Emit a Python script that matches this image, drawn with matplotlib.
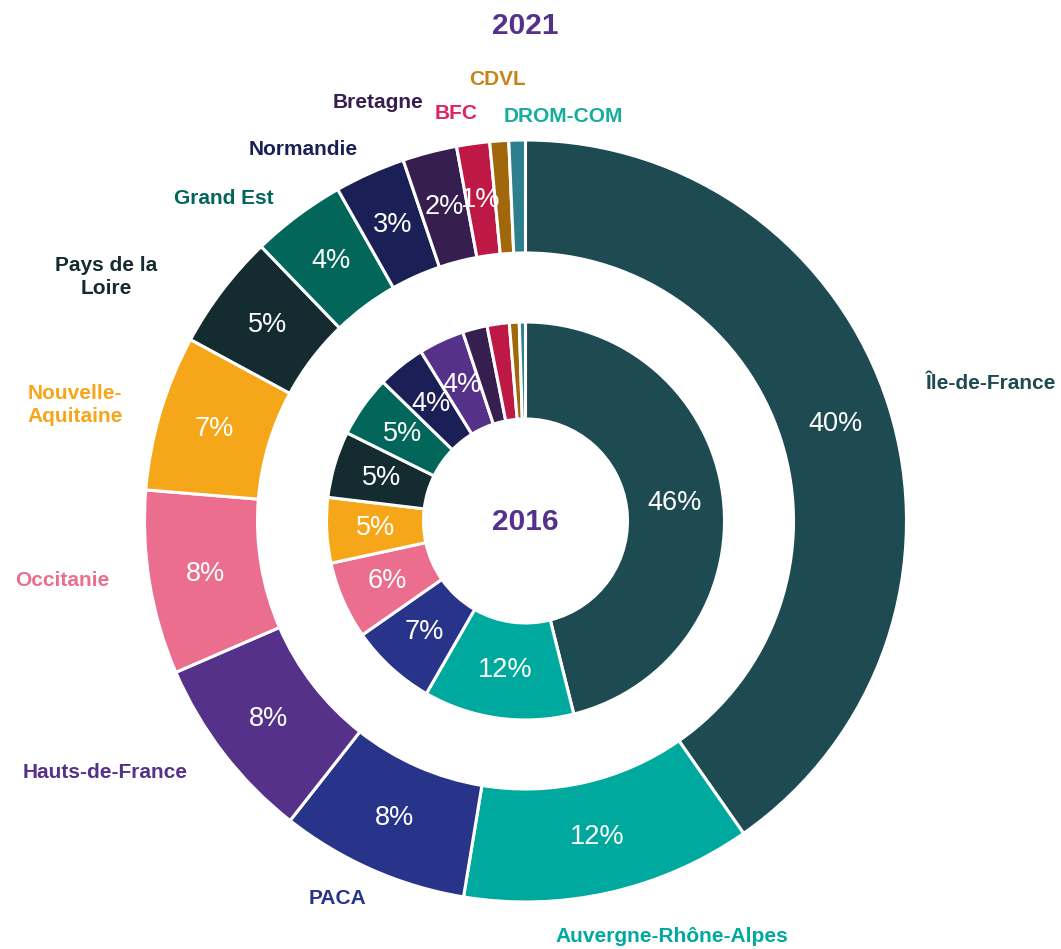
import matplotlib.pyplot as plt

plt.rcParams['font.family'] = ['Liberation Sans', 'DejaVu Sans']

# Regions, clockwise from the top
regions = ["Île-de-France", "Auvergne-Rhône-Alpes", "PACA", "Hauts-de-France",
           "Occitanie", "Nouvelle-\nAquitaine", "Pays de la\nLoire", "Grand Est",
           "Normandie", "Bretagne", "BFC", "CDVL", "DROM-COM"]
share_2021 = [40.3, 12.3, 8.0, 7.9, 7.8, 6.6, 4.9, 4.0, 3.0, 2.3, 1.4, 0.8, 0.7]

# 2016 ring has its own order
regions_2016 = ["Île-de-France", "Auvergne-Rhône-Alpes", "PACA", "Occitanie",
                "Nouvelle-\nAquitaine", "Pays de la\nLoire", "Grand Est", "Normandie",
                "Hauts-de-France", "Bretagne", "BFC", "CDVL", "DROM-COM"]
share_2016 = [46.1, 12.2, 7.0, 6.3, 5.3, 5.4, 5.0, 3.9, 3.7, 2.0, 1.8, 0.8, 0.5]

wedge_col = {"Île-de-France": "#1e4a52", "Auvergne-Rhône-Alpes": "#00a99d",
             "PACA": "#28348a", "Hauts-de-France": "#563189", "Occitanie": "#ec6e8e",
             "Nouvelle-\nAquitaine": "#f6a619", "Pays de la\nLoire": "#142b30",
             "Grand Est": "#03665a", "Normandie": "#1a1f55", "Bretagne": "#361e4f",
             "BFC": "#be1845", "CDVL": "#a0680a", "DROM-COM": "#2e7f8e"}
label_col = dict(wedge_col, **{"BFC": "#e0245e", "CDVL": "#c4861a", "DROM-COM": "#14ad9e"})

# label centres in pixels from the top-left corner
label_xy = {"Île-de-France": (991, 383), "Auvergne-Rhône-Alpes": (672, 937),
            "PACA": (338, 898), "Hauts-de-France": (105, 773), "Occitanie": (62, 580),
            "Nouvelle-\nAquitaine": (75, 405), "Pays de la\nLoire": (106, 277),
            "Grand Est": (224, 198), "Normandie": (303, 149), "Bretagne": (378, 102),
            "BFC": (456, 113), "CDVL": (497, 79), "DROM-COM": (563, 116)}

W, H = 1061, 949
cx, cy = 525.5, H - 521
purple = "#55308d"

fig = plt.figure(figsize=(W / 100, H / 100), dpi=100)
ax = fig.add_axes([0, 0, 1, 1])

r_out, r_in = 381, 199
ax.pie(share_2021, colors=[wedge_col[r] for r in regions], startangle=90,
       counterclock=False, radius=r_out, center=(cx, cy),
       wedgeprops=dict(width=113, edgecolor='white', linewidth=2.2),
       autopct=lambda p: f'{p:.0f}%' if p >= 1 else '', pctdistance=324.5 / r_out,
       textprops=dict(color='white', fontsize=19.5), frame=True)
ax.pie(share_2016, colors=[wedge_col[r] for r in regions_2016], startangle=90,
       counterclock=False, radius=r_in, center=(cx, cy),
       wedgeprops=dict(width=97, edgecolor='white', linewidth=2.2),
       autopct=lambda p: f'{p:.0f}%' if p >= 3 else '', pctdistance=150.5 / r_in,
       textprops=dict(color='white', fontsize=19.5), frame=True)
ax.set_xlim(0, W)
ax.set_ylim(0, H)
ax.set_aspect('equal')
ax.axis('off')

for r in regions:
    x, y = label_xy[r]
    ax.text(x, H - y, r, color=label_col[r], fontsize=15, fontweight='bold',
            ha='center', va='center', multialignment='center', linespacing=1.3)

ax.text(cx, H - 26, "2021", color=purple, fontsize=21.5, fontweight='bold',
        ha='center', va='center')
ax.text(cx, H - 522, "2016", color=purple, fontsize=21.5, fontweight='bold',
        ha='center', va='center')

fig.savefig("out.png", dpi=100, facecolor='white')
